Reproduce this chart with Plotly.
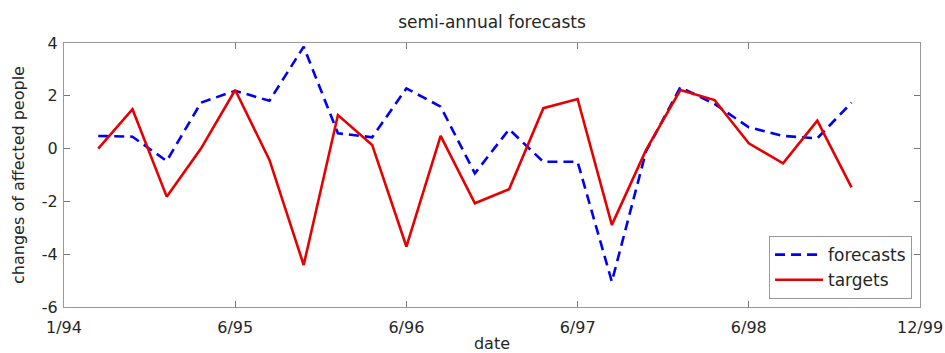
import plotly.graph_objects as go

period_index = list(range(1, 24))
forecasts = [0.48, 0.45, -0.47, 1.74, 2.19, 1.81, 3.86, 0.58, 0.43, 2.28, 1.59, -0.94,
             0.73, -0.5, -0.5, -5.04, -0.1, 2.32, 1.69, 0.81, 0.48, 0.39, 1.74]
targets = [0.0, 1.49, -1.82, 0.0, 2.22, -0.43, -4.41, 1.27, 0.14, -3.71, 0.48, -2.07,
           -1.54, 1.53, 1.88, -2.89, -0.05, 2.22, 1.84, 0.2, -0.56, 1.06, -1.47]
x_tick_positions = [0, 5, 10, 15, 20, 25]
x_tick_labels = ["1/94", "6/95", "6/96", "6/97", "6/98", "12/99"]
y_tick_values = [-6, -4, -2, 0, 2, 4]
y_tick_labels = ["-6", "-4", "-2", "0", "2", "4"]

font = "DejaVu Sans, Verdana, sans-serif"
txt = "#262626"

fig = go.Figure()
fig.add_trace(go.Scatter(x=period_index, y=forecasts, mode="lines", name="forecasts",
                         line=dict(color="#0000f5", width=2.6, dash="10px,6px")))
fig.add_trace(go.Scatter(x=period_index, y=targets, mode="lines", name="targets",
                         line=dict(color="#e60000", width=2.6)))

axis_common = dict(showline=True, linecolor="#999999", linewidth=1.2, mirror="ticks",
                   ticks="inside", ticklen=6, tickcolor="#777777", showgrid=False,
                   zeroline=False, automargin=False,
                   tickfont=dict(family=font, size=16, color=txt))

fig.update_layout(
    width=945, height=353,
    margin=dict(l=64, r=25, t=43, b=46),
    paper_bgcolor="white", plot_bgcolor="white",
    title=dict(text="semi-annual forecasts", x=492 / 945, xanchor="center",
               y=1 - 22 / 353, yanchor="middle",
               font=dict(family=font, size=17, color=txt)),
    xaxis=dict(range=[0, 25], tickvals=x_tick_positions, ticktext=x_tick_labels,
               ticklabelstandoff=6,
               title=dict(text="date", font=dict(family=font, size=16, color=txt), standoff=4),
               **axis_common),
    yaxis=dict(range=[-6, 4], tickvals=y_tick_values, ticktext=y_tick_labels,
               ticklabelstandoff=2,
               title=dict(text="changes of affected people", font=dict(family=font, size=16, color=txt), standoff=13),
               **axis_common),
    legend=dict(x=0.9907, y=0.03, xanchor="right", yanchor="bottom",
                bordercolor="#999999", borderwidth=1, bgcolor="white",
                font=dict(family=font, size=17, color=txt),
                tracegroupgap=0, itemwidth=48),
    showlegend=True,
)

fig.write_html("out.html", post_script="document.body.style.margin='0';",
               config={"displayModeBar": False})
